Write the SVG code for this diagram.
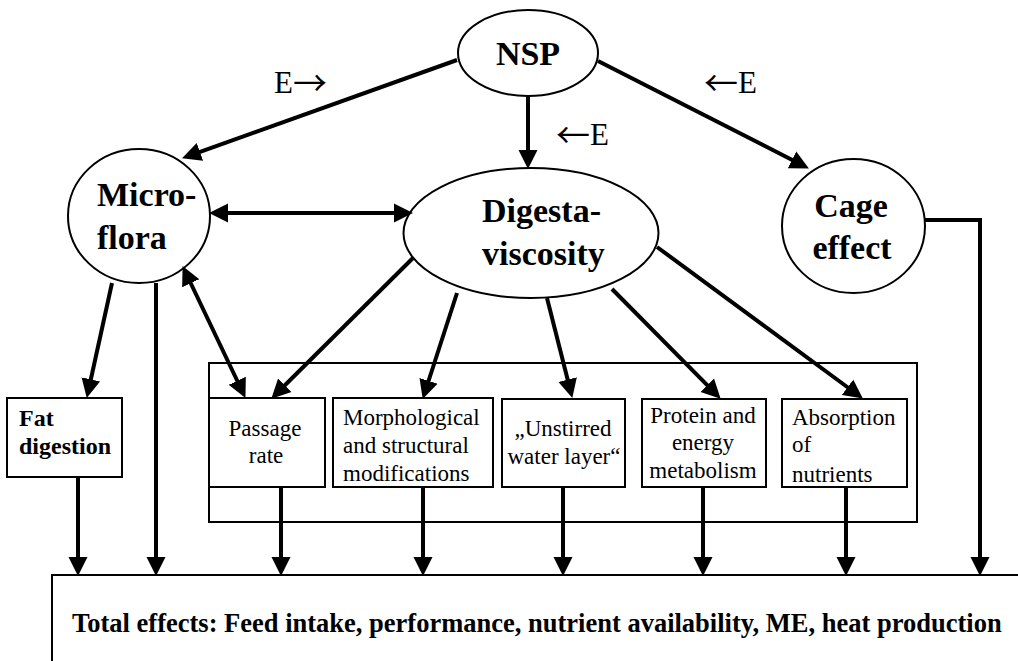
<svg xmlns="http://www.w3.org/2000/svg" width="1018" height="661" viewBox="0 0 1018 661">
<style>
.shape{fill:#fff;stroke:#000;stroke-width:2}
.t{font-family:"Liberation Serif","Times New Roman",serif;fill:#000}
.big{font-size:34px;font-weight:bold}
.box{font-size:23px}
.bold{font-weight:bold}
.lbl{font-size:31px}
.arr{font-family:"Noto Sans CJK JP","DejaVu Sans",sans-serif;font-size:34px}
.c{text-anchor:middle}
.con line,.con polyline,.con path{stroke:#000;stroke-width:4;fill:none}
</style>
<defs>
<marker id="ah" viewBox="0 -10 20 20" markerUnits="userSpaceOnUse" markerWidth="20" markerHeight="20" refX="8" refY="0" orient="auto-start-reverse">
<path d="M0,-9.5 L19,0 L0,9.5 z" fill="#000"/>
</marker>
</defs>
<rect width="1018" height="661" fill="#fff"/>

<g id="total">
<rect class="shape" x="52" y="575" width="1010" height="120"/>
<text class="t bold" x="72" y="632" font-size="26.5">Total effects: Feed intake, performance, nutrient availability, ME, heat production</text>
</g>

<g id="group-box"><rect class="shape" x="209" y="363" width="708" height="159"/></g>

<g id="nsp">
<ellipse class="shape" cx="528" cy="53" rx="70" ry="43"/>
<text class="t big c" x="528" y="65">NSP</text>
</g>
<g id="microflora">
<ellipse class="shape" cx="139" cy="216" rx="71" ry="67"/>
<text class="t big" x="97" y="206">Micro-</text>
<text class="t big" x="97" y="249">flora</text>
</g>
<g id="digesta">
<ellipse class="shape" cx="531" cy="233" rx="127.5" ry="65"/>
<text class="t big" x="482" y="222">Digesta-</text>
<text class="t big" x="482" y="265">viscosity</text>
</g>
<g id="cage">
<ellipse class="shape" cx="853.5" cy="226" rx="71.5" ry="67"/>
<text class="t big c" x="851" y="217">Cage</text>
<text class="t big c" x="852" y="259">effect</text>
</g>
<g id="fat">
<rect class="shape" x="7" y="398" width="115" height="79"/>
<text class="t bold" font-size="24" x="19" y="426">Fat</text>
<text class="t bold" font-size="24" x="19" y="454">digestion</text>
</g>
<g id="passage">
<rect class="shape" x="209" y="398" width="116" height="89"/>
<text class="t box c" x="265" y="436">Passage</text>
<text class="t box c" x="266" y="463">rate</text>
</g>
<g id="morph">
<rect class="shape" x="333" y="398" width="160" height="89"/>
<text class="t box" x="343" y="425">Morphological</text>
<text class="t box" x="343" y="453">and structural</text>
<text class="t box" x="343" y="481">modifications</text>
</g>
<g id="unstirred">
<rect class="shape" x="502" y="399" width="123" height="88"/>
<text class="t box c" x="563" y="436">„Unstirred</text>
<text class="t box c" x="564" y="464">water layer“</text>
</g>
<g id="protein">
<rect class="shape" x="642" y="399" width="124" height="88"/>
<text class="t box c" x="703" y="423">Protein and</text>
<text class="t box c" x="703" y="450">energy</text>
<text class="t box c" x="703" y="478">metabolism</text>
</g>
<g id="absorption">
<rect class="shape" x="782" y="399" width="125" height="88"/>
<text class="t box" x="792" y="425">Absorption</text>
<text class="t box" x="792" y="452">of</text>
<text class="t box" x="792" y="482">nutrients</text>
</g>

<g id="labels">
<text class="t lbl" x="274" y="93">E<tspan class="arr" dy="3">→</tspan></text>
<text class="t lbl" x="704" y="93"><tspan class="arr" dy="3">←</tspan><tspan dy="-3">E</tspan></text>
<text class="t lbl" x="556" y="145"><tspan class="arr" dy="3">←</tspan><tspan dy="-3">E</tspan></text>
</g>

<g id="connectors" class="con">
<line x1="457" y1="60" x2="192.4" y2="154.6" marker-end="url(#ah)"/>
<line x1="528" y1="97" x2="528" y2="158" marker-end="url(#ah)"/>
<line x1="598" y1="61" x2="799.1" y2="163.5" marker-end="url(#ah)"/>
<line x1="220" y1="213" x2="402" y2="213" marker-start="url(#ah)" marker-end="url(#ah)"/>
<line x1="112" y1="283" x2="89.1" y2="387.2" marker-end="url(#ah)"/>
<line x1="156" y1="283" x2="156" y2="565" marker-end="url(#ah)"/>
<line x1="187.3" y1="276" x2="240.7" y2="388" marker-start="url(#ah)" marker-end="url(#ah)"/>
<line x1="413" y1="258" x2="279.1" y2="391" marker-end="url(#ah)"/>
<line x1="457" y1="293" x2="426.1" y2="388.5" marker-end="url(#ah)"/>
<line x1="547" y1="298" x2="569.6" y2="387.3" marker-end="url(#ah)"/>
<line x1="612" y1="289" x2="712.9" y2="390.9" marker-end="url(#ah)"/>
<line x1="657" y1="247" x2="854" y2="392" marker-end="url(#ah)"/>
<line x1="78" y1="477" x2="78" y2="565" marker-end="url(#ah)"/>
<line x1="281" y1="487" x2="281" y2="565" marker-end="url(#ah)"/>
<line x1="423" y1="487" x2="423" y2="565" marker-end="url(#ah)"/>
<line x1="563" y1="487" x2="563" y2="565" marker-end="url(#ah)"/>
<line x1="703" y1="487" x2="703" y2="565" marker-end="url(#ah)"/>
<line x1="846" y1="487" x2="846" y2="565" marker-end="url(#ah)"/>
<polyline points="925,220 980,220 980,565" marker-end="url(#ah)"/>
</g>
</svg>
